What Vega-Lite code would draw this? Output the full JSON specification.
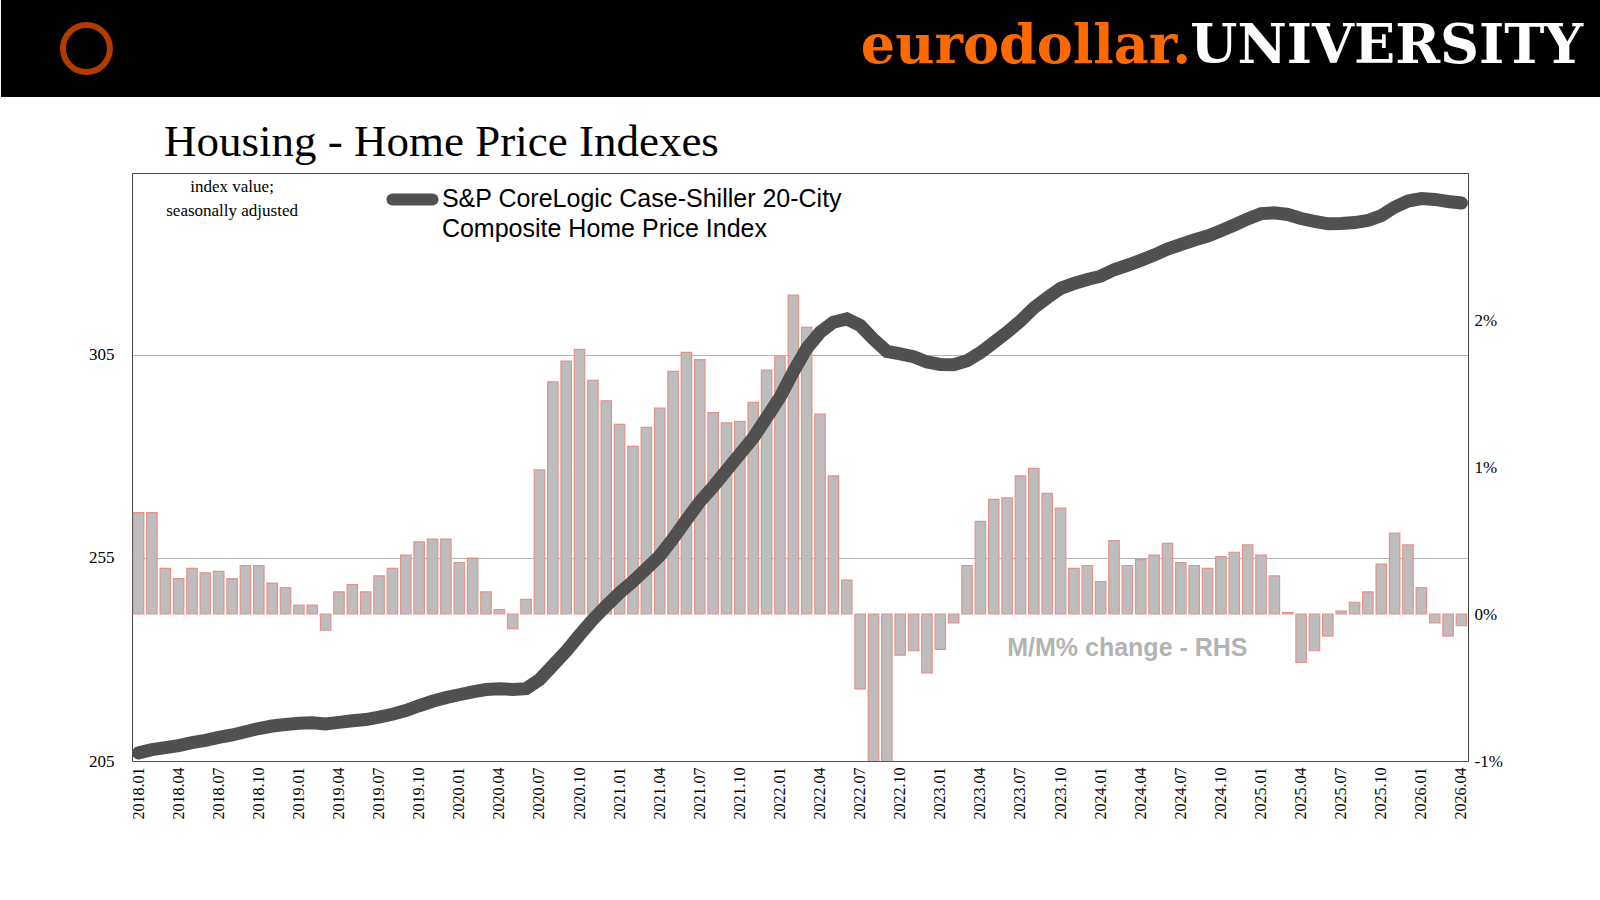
{
"$schema":"https://vega.github.io/schema/vega-lite/v6.json",
"background":"white","padding":0,"spacing":22,
"config":{"font":"Liberation Serif"},
"datasets":{
"s":[
{"m":"2018.01","v":207,"p":0.69},{"m":"2018.02","v":207.8,"p":0.69},{"m":"2018.03","v":208.3,"p":0.31},{"m":"2018.04","v":208.8,"p":0.24},{"m":"2018.05","v":209.5,"p":0.31},{"m":"2018.06","v":210.1,"p":0.28},{"m":"2018.07","v":210.8,"p":0.29},{"m":"2018.08","v":211.4,"p":0.24},{"m":"2018.09","v":212.2,"p":0.33},{"m":"2018.10","v":213,"p":0.33},{"m":"2018.11","v":213.6,"p":0.21},{"m":"2018.12","v":214,"p":0.18},
{"m":"2019.01","v":214.3,"p":0.06},{"m":"2019.02","v":214.4,"p":0.06},{"m":"2019.03","v":214.1,"p":-0.11},{"m":"2019.04","v":214.5,"p":0.15},{"m":"2019.05","v":214.9,"p":0.2},{"m":"2019.06","v":215.2,"p":0.15},{"m":"2019.07","v":215.8,"p":0.26},{"m":"2019.08","v":216.5,"p":0.31},{"m":"2019.09","v":217.4,"p":0.4},{"m":"2019.10","v":218.6,"p":0.49},{"m":"2019.11","v":219.7,"p":0.51},{"m":"2019.12","v":220.6,"p":0.51},
{"m":"2020.01","v":221.3,"p":0.35},{"m":"2020.02","v":222,"p":0.38},{"m":"2020.03","v":222.6,"p":0.15},{"m":"2020.04","v":222.8,"p":0.03},{"m":"2020.05","v":222.6,"p":-0.1},{"m":"2020.06","v":222.8,"p":0.1},{"m":"2020.07","v":225,"p":0.98},{"m":"2020.08","v":228.5,"p":1.58},{"m":"2020.09","v":232,"p":1.72},{"m":"2020.10","v":236,"p":1.8},{"m":"2020.11","v":239.8,"p":1.59},{"m":"2020.12","v":243.2,"p":1.45},
{"m":"2021.01","v":246.4,"p":1.29},{"m":"2021.02","v":249.2,"p":1.14},{"m":"2021.03","v":252.3,"p":1.27},{"m":"2021.04","v":255.5,"p":1.4},{"m":"2021.05","v":259.7,"p":1.65},{"m":"2021.06","v":264.3,"p":1.78},{"m":"2021.07","v":268.8,"p":1.73},{"m":"2021.08","v":272.5,"p":1.37},{"m":"2021.09","v":276.5,"p":1.3},{"m":"2021.10","v":280.5,"p":1.31},{"m":"2021.11","v":284.5,"p":1.44},{"m":"2021.12","v":289.5,"p":1.66},
{"m":"2022.01","v":294.5,"p":1.75},{"m":"2022.02","v":300.8,"p":2.17},{"m":"2022.03","v":306.5,"p":1.95},{"m":"2022.04","v":310.5,"p":1.36},{"m":"2022.05","v":313,"p":0.94},{"m":"2022.06","v":313.8,"p":0.23},{"m":"2022.07","v":312.2,"p":-0.51},{"m":"2022.08","v":308.8,"p":-1.08},{"m":"2022.09","v":305.8,"p":-1.2},{"m":"2022.10","v":305.2,"p":-0.28},{"m":"2022.11","v":304.5,"p":-0.25},{"m":"2022.12","v":303.2,"p":-0.4},
{"m":"2023.01","v":302.6,"p":-0.24},{"m":"2023.02","v":302.5,"p":-0.06},{"m":"2023.03","v":303.5,"p":0.33},{"m":"2023.04","v":305.5,"p":0.63},{"m":"2023.05","v":308,"p":0.78},{"m":"2023.06","v":310.5,"p":0.79},{"m":"2023.07","v":313.3,"p":0.94},{"m":"2023.08","v":316.5,"p":0.99},{"m":"2023.09","v":319,"p":0.82},{"m":"2023.10","v":321.3,"p":0.72},{"m":"2023.11","v":322.5,"p":0.31},{"m":"2023.12","v":323.5,"p":0.33},
{"m":"2024.01","v":324.3,"p":0.22},{"m":"2024.02","v":325.9,"p":0.5},{"m":"2024.03","v":327,"p":0.33},{"m":"2024.04","v":328.2,"p":0.37},{"m":"2024.05","v":329.5,"p":0.4},{"m":"2024.06","v":331,"p":0.48},{"m":"2024.07","v":332.1,"p":0.35},{"m":"2024.08","v":333.2,"p":0.33},{"m":"2024.09","v":334.2,"p":0.31},{"m":"2024.10","v":335.5,"p":0.39},{"m":"2024.11","v":336.9,"p":0.42},{"m":"2024.12","v":338.4,"p":0.47},
{"m":"2025.01","v":339.7,"p":0.4},{"m":"2025.02","v":339.9,"p":0.26},{"m":"2025.03","v":339.5,"p":0.01},{"m":"2025.04","v":338.5,"p":-0.33},{"m":"2025.05","v":337.8,"p":-0.25},{"m":"2025.06","v":337.2,"p":-0.15},{"m":"2025.07","v":337.3,"p":0.02},{"m":"2025.08","v":337.5,"p":0.08},{"m":"2025.09","v":338,"p":0.15},{"m":"2025.10","v":339.2,"p":0.34},{"m":"2025.11","v":341.3,"p":0.55},{"m":"2025.12","v":342.8,"p":0.47},
{"m":"2026.01","v":343.4,"p":0.18},{"m":"2026.02","v":343.2,"p":-0.06},{"m":"2026.03","v":342.7,"p":-0.15},{"m":"2026.04","v":342.3,"p":-0.08}
]},
"vconcat":[
{"width":1469,"height":97,"view":{"stroke":null},
 "data":{"values":[{"a":"eurodollar.","b":"UNIVERSITY"}]},
 "layer":[
  {"mark":{"type":"rect","color":"black","clip":false},
   "encoding":{"x":{"datum":-0.0892,"type":"quantitative","scale":{"domain":[0,1]},"axis":null},"x2":{"datum":1},"y":{"datum":0,"type":"quantitative","scale":{"domain":[0,1]},"axis":null},"y2":{"datum":1}}},
  {"mark":{"type":"text","align":"right","baseline":"middle","font":"DejaVu Serif","fontWeight":"bold","fontSize":54,"color":"white","dx":-18,"dy":-2},
   "encoding":{"x":{"datum":1,"type":"quantitative"},"y":{"datum":0.5,"type":"quantitative"},"text":{"field":"b"}}},
  {"mark":{"type":"text","align":"right","baseline":"middle","font":"DejaVu Serif","fontWeight":"bold","fontSize":54,"color":"#ff6a00","dx":-410,"dy":-2},
   "encoding":{"x":{"datum":1,"type":"quantitative"},"y":{"datum":0.5,"type":"quantitative"},"text":{"field":"a"}}},
  {"mark":{"type":"point","shape":"circle","filled":false,"stroke":"#ff5500","strokeWidth":6,"size":2200,"clip":false},
   "encoding":{"x":{"datum":-0.031,"type":"quantitative"},"y":{"datum":0.5,"type":"quantitative"}}}
 ]},
{"width":1336,"height":588,
 "view":{"stroke":"#444","strokeWidth":1},
 "title":{"text":"Housing - Home Price Indexes","anchor":"start","dx":163,"fontSize":45,"fontWeight":"normal","font":"Liberation Serif","color":"black","offset":8},
 "data":{"name":"s"},
 "resolve":{"scale":{"y":"independent"}},
 "encoding":{"x":{"field":"m","type":"ordinal","sort":null,"scale":{"paddingInner":0.22,"paddingOuter":0.1},
   "axis":{"title":null,"labelAngle":-90,"labelFontSize":16,"labelFont":"Liberation Serif","labelColor":"black","ticks":false,"domain":false,"labelPadding":6,
   "values":["2018.01","2018.04","2018.07","2018.10","2019.01","2019.04","2019.07","2019.10","2020.01","2020.04","2020.07","2020.10","2021.01","2021.04","2021.07","2021.10","2022.01","2022.04","2022.07","2022.10","2023.01","2023.04","2023.07","2023.10","2024.01","2024.04","2024.07","2024.10","2025.01","2025.04","2025.07","2025.10","2026.01","2026.04"]}}},
 "layer":[
  {"layer":[
   {"mark":{"type":"bar","fill":"#bdbdbd","stroke":"#e8908a","strokeWidth":1.2,"clip":true},
    "encoding":{"y":{"field":"p","type":"quantitative","scale":{"domain":[-1,3]},
      "axis":{"orient":"right","values":[-1,0,1,2],"labelExpr":"datum.value+'%'","title":null,"labelFontSize":17,"labelFont":"Liberation Serif","labelColor":"black","grid":false,"ticks":false,"domain":false,"minExtent":60,"labelPadding":6}}}},
   {"mark":{"type":"rule","color":"#222","strokeWidth":4,"opacity":0.75},
    "encoding":{"y":{"datum":0,"type":"quantitative"}}},
   {"data":{"values":[{"m":"2024.03","t":"M/M% change - RHS"}]},
    "mark":{"type":"text","font":"Liberation Sans","fontWeight":"bold","fontSize":25,"color":"#b3b3b3","align":"center","baseline":"middle"},
    "encoding":{"y":{"datum":-0.23,"type":"quantitative"},"text":{"field":"t"}}}
  ]},
  {"layer":[
   {"mark":{"type":"line","color":"#505050","strokeWidth":13,"strokeCap":"round","clip":true},
    "encoding":{"y":{"field":"v","type":"quantitative","scale":{"domain":[205,349.7],"nice":false,"zero":false},
      "axis":{"orient":"left","values":[205,255,305],"title":null,"labelFontSize":17,"labelFont":"Liberation Serif","labelColor":"black","grid":true,"gridDash":[1,1],"gridColor":"#666","ticks":false,"domain":false,"minExtent":131,"labelPadding":18}}}},
   {"data":{"values":[{"m":"2019.08"},{"m":"2019.11"}]},
    "mark":{"type":"line","color":"#505050","strokeWidth":12,"strokeCap":"round"},
    "encoding":{"y":{"datum":343.2,"type":"quantitative"}}},
   {"data":{"values":[{"m":"2019.12","t":["S&P CoreLogic Case-Shiller 20-City","Composite Home Price Index"]}]},
    "mark":{"type":"text","font":"Liberation Sans","fontSize":25,"color":"black","align":"left","baseline":"middle","lineHeight":30,"dx":-4},
    "encoding":{"y":{"datum":343.2,"type":"quantitative"},"text":{"field":"t"}}},
   {"data":{"values":[{"m":"2018.08","t":["index value;","seasonally adjusted"]}]},
    "mark":{"type":"text","font":"Liberation Serif","fontSize":17,"color":"black","align":"center","baseline":"middle","lineHeight":24},
    "encoding":{"y":{"datum":346.2,"type":"quantitative"},"text":{"field":"t"}}}
  ]}
 ]}
]}
